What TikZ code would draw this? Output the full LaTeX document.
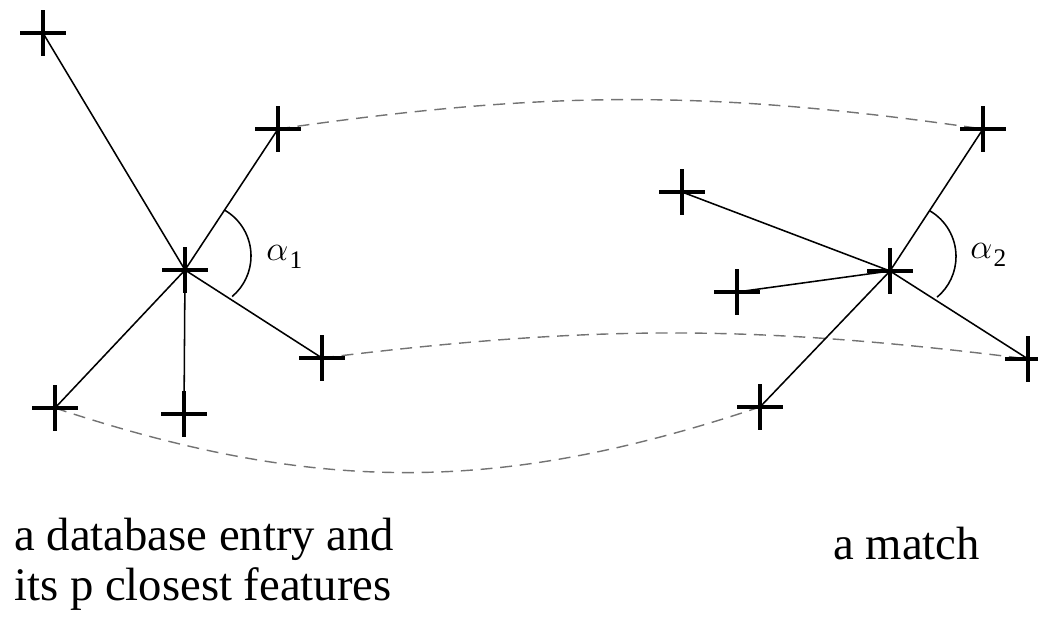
\documentclass[tikz,border=0pt]{standalone}
\usepackage{fontspec}
\setmainfont{Liberation Serif}
\usetikzlibrary{shapes.misc,backgrounds}

\begin{document}
\begin{tikzpicture}[x=0.025cm, y=0.025cm,
                    feat/.style={cross out, draw, rotate=45, line width=3.3pt,
                                 minimum size=23pt, inner sep=0pt, outer sep=0pt},
                    link/.style={line width=1.1pt},
                    match/.style={black!55, line width=1pt, dash pattern=on 8.5pt off 5.5pt},
                    anglab/.style={font=\fontsize{31}{36}\selectfont, inner sep=0pt, anchor=base west},
                    caption/.style={font=\fontsize{33.2}{35.5}\selectfont, align=left,
                                    inner sep=0pt, anchor=base west}]
\useasboundingbox (0,0) rectangle (1038,621);
% database entry and its neighbours
\node[feat] (dbC) at (185,351) {};
\node[feat] (dbA) at (43,588) {};
\node[feat] (dbB) at (278,492) {};
\node[feat] (dbD) at (322,263) {};
\node[feat] (dbE) at (55,213) {};
\node[feat] (dbF) at (184,207) {};
% the match
\node[feat] (mC) at (890,350) {};
\node[feat] (mG) at (983,492) {};
\node[feat] (mH) at (682,429) {};
\node[feat] (mJ) at (737,329) {};
\node[feat] (mK) at (1028,262) {};
\node[feat] (mL) at (760,214) {};
\foreach \n in {dbA,dbB,dbD,dbE,dbF}
  \draw[link] (dbC.center) -- (\n.center);
\foreach \n in {mG,mH,mJ,mK,mL}
  \draw[link] (mC.center) -- (\n.center);
% angles
\path (dbC.center) -- (dbB.center) coordinate[pos=0.425] (arcA);
\path (mC.center) -- (mG.center) coordinate[pos=0.425] (arcB);
\draw[link] (arcA) arc[start angle=60, end angle=-50, radius=53];
\draw[link] (arcB) arc[start angle=60, end angle=-50, radius=53];
\node[anglab] (alphaA) at (266,361) {$\alpha$\kern1pt\raisebox{-6pt}{\fontsize{18}{18}\selectfont 1}};
\node[anglab] (alphaB) at (970,363) {$\alpha$\kern1pt\raisebox{-6pt}{\fontsize{18}{18}\selectfont 2}};
% correspondences
\begin{scope}[on background layer]
\draw[match] (dbB.center) to[bend left=8.2] (mG.center);
\draw[match] (dbD.center) to[bend left=7.1] (mK.center);
\draw[match] (dbE.center) to[bend right=18.4] (mL.center);
\end{scope}
\node[caption] (capA) at (14,21) {a database entry and\\its p closest features};
\node[caption] (capB) at (833,62) {a match};
\end{tikzpicture}
\end{document}
